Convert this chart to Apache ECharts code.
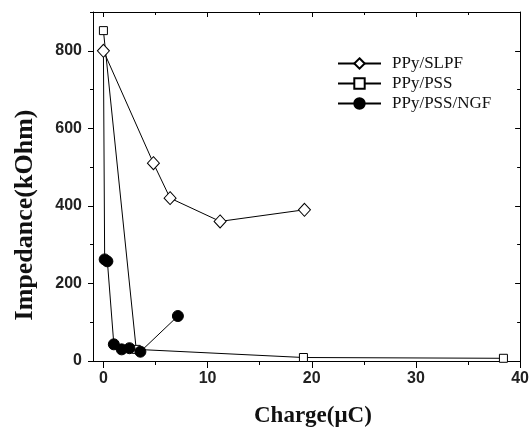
<!DOCTYPE html>
<html><head><meta charset="utf-8">
<script src="https://cdn.jsdelivr.net/npm/echarts@6/dist/echarts.min.js"></script>
<style>html,body{margin:0;padding:0;background:#fff}#c{width:532px;height:431px}</style>
</head><body><div id="c"></div>
<script>
// Data
const seriesNames = ['PPy/SLPF', 'PPy/PSS', 'PPy/PSS/NGF'];
const slpfX = [0, 4.8, 6.4, 11.2, 19.3];
const slpfY = [800, 510, 420, 360, 390];
const pssX = [0, 3.15, 19.2, 38.4];
const pssY = [852, 30, 9, 7];
const ngfX = [0, 0.12, 0.38, 1.0, 1.75, 2.5, 3.55, 7.15];
const ngfY = [800, 262, 257, 43, 30, 33, 24, 116];
const xMajorTicks = [0, 10, 20, 30, 40];
const xMinorTicks = [5, 15, 25, 35];
const yMajorTicks = [0, 200, 400, 600, 800];
const yMinorTicks = [100, 300, 500, 700, 900];
const xTitle = 'Charge(μC)';
const yTitle = 'Impedance(kOhm)';

const pair = (xs, ys) => xs.map((x, i) => [x, ys[i]]);
const chart = echarts.init(document.getElementById('c'));
const X = {min: -1, max: 40};
const Y = {min: 0, max: 900};
const labelStyle = {color: '#222', fontFamily: 'Liberation Sans, Arial', fontWeight: 'bold', fontSize: 16};
const lineStyle = {color: '#000', width: 1};
function xa(pos, ticks, len, inside, labels, showLine) {
  return Object.assign({type: 'value', position: pos, gridIndex: 0}, X, {
    axisLine: {show: showLine, onZero: false, lineStyle},
    axisTick: {show: true, customValues: ticks, length: len, inside, lineStyle},
    axisLabel: labels ? Object.assign({show: true, customValues: xMajorTicks, margin: 10}, labelStyle) : {show: false},
    splitLine: {show: false}
  });
}
function ya(pos, ticks, len, inside, labels, showLine) {
  return Object.assign({type: 'value', position: pos, gridIndex: 0}, Y, {
    axisLine: {show: showLine, onZero: false, lineStyle},
    axisTick: {show: true, customValues: ticks, length: len, inside, lineStyle},
    axisLabel: labels ? Object.assign({show: true, customValues: yMajorTicks, margin: 11}, labelStyle) : {show: false},
    splitLine: {show: false}
  });
}
chart.setOption({
  animation: false,
  backgroundColor: '#fff',
  grid: {left: 93, top: 12, width: 430, height: 349},
  xAxis: [
    xa('bottom', xMajorTicks, 7, false, true, true),
    xa('bottom', xMinorTicks, 4, false, false, false),
    xa('top', xMajorTicks, 5, true, false, true),
    xa('top', xMinorTicks, 3, true, false, false)
  ],
  yAxis: [
    ya('left', yMajorTicks, 5, false, true, true),
    ya('left', yMinorTicks, 3, false, false, false),
    ya('right', yMajorTicks, 5, true, false, true),
    ya('right', yMinorTicks, 3, true, false, false)
  ],
  legend: {
    left: 332, top: 50, orient: 'vertical', itemGap: 3, itemWidth: 43, itemHeight: 13,
    data: seriesNames,
    textStyle: {fontFamily: 'Liberation Serif, Times New Roman', fontSize: 17, color: '#111', padding: [0, 0, 0, 6]}
  },
  series: [
    {name: seriesNames[1], type: 'line', data: pair(pssX, pssY), symbol: 'rect', symbolSize: 8,
     lineStyle: {color: '#000', width: 1}, itemStyle: {color: '#fff', borderColor: '#000', borderWidth: 1}, z: 3},
    {name: seriesNames[2], type: 'line',
     data: pair(ngfX, ngfY).map((p, i) => i === 0 ? {value: p, symbol: 'none'} : p),
     symbol: 'circle', symbolSize: 11,
     lineStyle: {color: '#000', width: 1}, itemStyle: {color: '#000', borderColor: '#000', borderWidth: 1}, z: 4},
    {name: seriesNames[0], type: 'line', data: pair(slpfX, slpfY), symbol: 'diamond', symbolSize: [12, 13],
     lineStyle: {color: '#000', width: 1}, itemStyle: {color: '#fff', borderColor: '#000', borderWidth: 1}, z: 5}
  ],
  graphic: [
    {type: 'text', left: 254, top: 405,
     style: {text: xTitle, font: 'bold 23px "Liberation Serif", "Times New Roman", serif', fill: '#111'}},
    {type: 'text', x: 25, y: 215, rotation: Math.PI / 2,
     style: {text: yTitle, font: 'bold 26px "Liberation Serif", "Times New Roman", serif', fill: '#111',
             align: 'center', verticalAlign: 'middle'}}
  ]
});
</script></body></html>
